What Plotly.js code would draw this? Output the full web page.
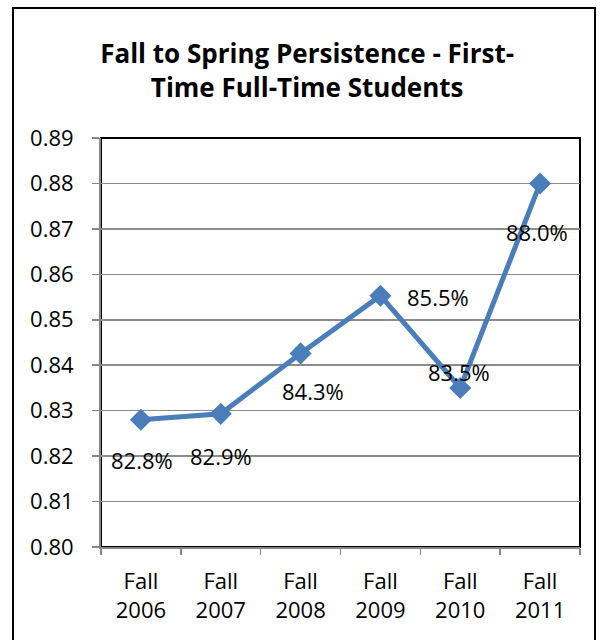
<!DOCTYPE html>
<html>
<head>
<meta charset="utf-8">
<script src="https://cdn.plot.ly/plotly-3.0.1.min.js"></script>
<style>
  html, body { margin: 0; padding: 0; background: #fff; }
  #wrap { position: relative; width: 600px; height: 640px; }
  #chart { width: 600px; height: 640px; }
  #frame { position: absolute; left: 12px; top: 7px; width: 584px; height: 660px;
           border: 2px solid #000; box-sizing: border-box; pointer-events: none; }
</style>
</head>
<body>
<div id="wrap">
  <div id="chart"></div>
  <div id="frame"></div>
</div>
<script>
const categories = ["Fall<br>2006", "Fall<br>2007", "Fall<br>2008", "Fall<br>2009", "Fall<br>2010", "Fall<br>2011"];
const persistence = [0.828, 0.8293, 0.8426, 0.8553, 0.835, 0.880];
const yTickVals = [0.80, 0.81, 0.82, 0.83, 0.84, 0.85, 0.86, 0.87, 0.88, 0.89];
const yTickText = ["0.80", "0.81", "0.82", "0.83", "0.84", "0.85", "0.86", "0.87", "0.88", "0.89"];
// label offsets (pixels) relative to each point
const labelShiftX = [1, 0, 12, 58, -1, -3];
const labelShiftY = [-40, -42, -38, -1, 16, -49];

const FONT = "Open Sans, Lato, sans-serif";

const trace = {
  x: categories,
  y: persistence,
  type: "scatter",
  mode: "lines+markers",
  line: { color: "#4A7EBB", width: 5 },
  marker: { symbol: "diamond", size: 17, color: "#4A7EBB" },
  hoverinfo: "skip",
  cliponaxis: false
};

const annotations = persistence.map((v, i) => ({
  x: categories[i],
  y: v,
  xref: "x",
  yref: "y",
  text: (v * 100).toFixed(1) + "%",
  showarrow: false,
  xshift: labelShiftX[i],
  yshift: labelShiftY[i],
  font: { family: FONT, size: 22, color: "#000" }
}));

const layout = {
  width: 600,
  height: 640,
  margin: { l: 101, r: 20, t: 138, b: 93 },
  paper_bgcolor: "#fff",
  plot_bgcolor: "#fff",
  showlegend: false,
  title: {
    text: "<b>Fall to Spring Persistence - First-<br>Time Full-Time Students</b>",
    font: { family: FONT, size: 26, color: "#000" },
    x: 0.512,
    xanchor: "center",
    y: 0.902,
    yanchor: "top"
  },
  xaxis: {
    type: "category",
    range: [-0.5, 5.5],
    tickson: "boundaries",
    ticks: "outside",
    ticklen: 6,
    tickcolor: "#868686",
    tickwidth: 1.5,
    showline: true,
    linecolor: "#868686",
    linewidth: 2,
    showgrid: false,
    ticklabelstandoff: 14,
    tickfont: { family: FONT, size: 22, color: "#000" },
    fixedrange: true
  },
  yaxis: {
    range: [0.80, 0.89],
    tickvals: yTickVals,
    ticktext: yTickText,
    ticks: "outside",
    ticklen: 7,
    tickcolor: "#868686",
    tickwidth: 1.5,
    showline: true,
    linecolor: "#868686",
    linewidth: 2,
    showgrid: true,
    gridcolor: "#8C8C8C",
    gridwidth: 1.5,
    zeroline: false,
    ticklabelstandoff: 14,
    tickfont: { family: FONT, size: 22, color: "#000" },
    fixedrange: true
  },
  shapes: [{
    type: "rect", xref: "paper", yref: "paper",
    x0: 0, x1: 1, y0: 0, y1: 1,
    line: { color: "#000", width: 2 },
    layer: "below"
  }],
  annotations: annotations
};

Plotly.newPlot("chart", [trace], layout, { displayModeBar: false, staticPlot: true });
</script>
</body>
</html>
